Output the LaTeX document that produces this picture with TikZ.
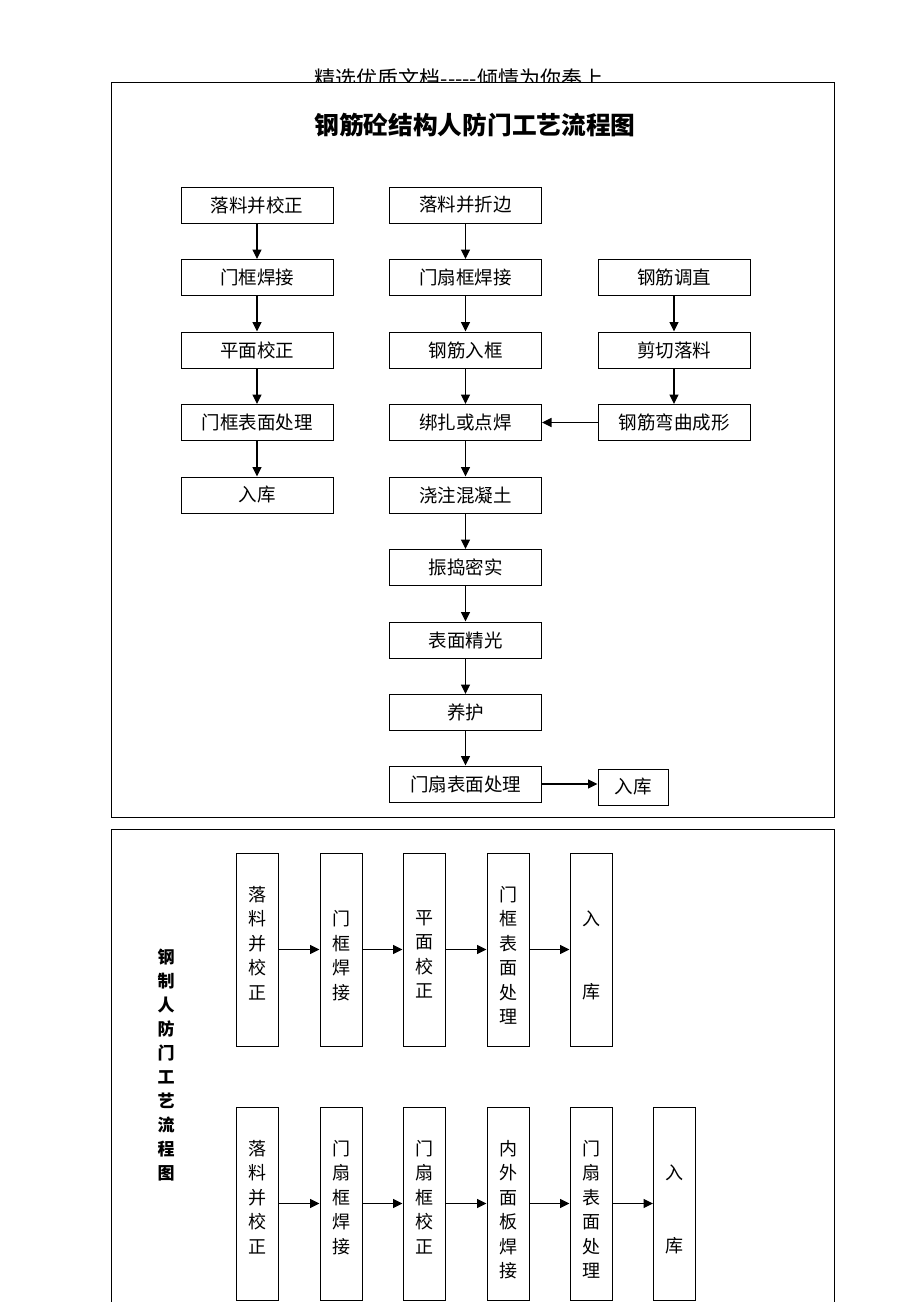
\documentclass[tikz,border=0pt]{standalone}
\usepackage{fontspec}
\newfontfamily\cjk{Noto Sans CJK SC}
\usetikzlibrary{arrows.meta}
\newcommand\vtext[2][33pt]{\parbox[c][193pt][t]{42pt}{\centering\vspace*{#1}#2}}
\tikzset{
  box/.style={draw, line width=1pt, minimum width=152pt, minimum height=36pt,
    inner sep=0pt, font=\cjk\fontsize{18.5pt}{18.5pt}\selectfont},
  vbox/.style={draw, line width=1pt, inner sep=0pt,
    font=\cjk\fontsize{18pt}{24.5pt}\selectfont},
  flow/.style={-{Triangle[length=9.5pt,width=9pt]}, line width=1.1pt}
}
\begin{document}
\begin{tikzpicture}[x=1pt,y=-1pt]
  \useasboundingbox (0,0) rectangle (920,1302);
  \node[font=\cjk\fontsize{21pt}{21pt}\selectfont] (head) at (459,78)
    {精选优质文档-----倾情为你奉上};
  % two frames
  \draw[line width=1pt, fill=white] (111,82) rectangle (834,817);
  \draw[line width=1pt, fill=white] (111,1310) -- (111,829) -- (834,829) -- (834,1310);
  \node[font=\cjk\bfseries\fontsize{24.7pt}{24.7pt}\selectfont] (title) at (475,125)
    {钢筋砼结构人防门工艺流程图};
  \draw
    (257,205) node[box] (l1) {落料并校正}
    (257,277.5) node[box] (l2) {门框焊接}
    (257,350) node[box] (l3) {平面校正}
    (257,422.5) node[box] (l4) {门框表面处理}
    (257,495) node[box] (l5) {入库}
    (465.5,205) node[box] (m1) {落料并折边}
    (465.5,277.5) node[box] (m2) {门扇框焊接}
    (465.5,350) node[box] (m3) {钢筋入框}
    (465.5,422.5) node[box] (m4) {绑扎或点焊}
    (465.5,495) node[box] (m5) {浇注混凝土}
    (465.5,567.5) node[box] (m6) {振捣密实}
    (465.5,640) node[box] (m7) {表面精光}
    (465.5,712.5) node[box] (m8) {养护}
    (465.5,784) node[box] (m9) {门扇表面处理}
    (674,277.5) node[box] (r1) {钢筋调直}
    (674,350) node[box] (r2) {剪切落料}
    (674,422.5) node[box] (r3) {钢筋弯曲成形}
    (633,787) node[box, minimum width=70pt] (e) {入库};
  \begin{scope}[flow]
    \draw (l1) to (l2);
    \draw (l2) to (l3);
    \draw (l3) to (l4);
    \draw (l4) to (l5);
    \draw (m1) to (m2);
    \draw (m2) to (m3);
    \draw (m3) to (m4);
    \draw (m4) to (m5);
    \draw (m5) to (m6);
    \draw (m6) to (m7);
    \draw (m7) to (m8);
    \draw (m8) to (m9);
    \draw (r1) to (r2);
    \draw (r2) to (r3);
    \draw (r3) to (m4);
    \draw (m9.east) -- (m9.east -| e.west);
  \end{scope}
  % steel door
  \node[align=center, font=\cjk\bfseries\fontsize{17pt}{24pt}\selectfont] (side) at (166,1065)
    {钢\\制\\人\\防\\门\\工\\艺\\流\\程\\图};
  \draw
    (257,949.5) node[vbox] (p1) {\vtext{落\\料\\并\\校\\正}}
    (341,949.5) node[vbox] (p2) {\vtext[57.5pt]{门\\框\\焊\\接}}
    (424,949.5) node[vbox] (p3) {\vtext[57.5pt]{平\\面\\校\\正}}
    (508,949.5) node[vbox] (p4) {\vtext{门\\框\\表\\面\\处\\理}}
    (591,949.5) node[vbox] (p5) {\vtext[57.5pt]{入\\[49pt]库}}
    (257,1203.5) node[vbox] (q1) {\vtext{落\\料\\并\\校\\正}}
    (341,1203.5) node[vbox] (q2) {\vtext{门\\扇\\框\\焊\\接}}
    (424,1203.5) node[vbox] (q3) {\vtext{门\\扇\\框\\校\\正}}
    (508,1203.5) node[vbox] (q4) {\vtext{内\\外\\面\\板\\焊\\接}}
    (591,1203.5) node[vbox] (q5) {\vtext{门\\扇\\表\\面\\处\\理}}
    (674.5,1203.5) node[vbox] (q6) {\vtext[57.5pt]{入\\[49pt]库}};
  \begin{scope}[flow]
    \draw (p1) to (p2);
    \draw (p2) to (p3);
    \draw (p3) to (p4);
    \draw (p4) to (p5);
    \draw (q1) to (q2);
    \draw (q2) to (q3);
    \draw (q3) to (q4);
    \draw (q4) to (q5);
    \draw (q5) to (q6);
  \end{scope}
\end{tikzpicture}
\end{document}
